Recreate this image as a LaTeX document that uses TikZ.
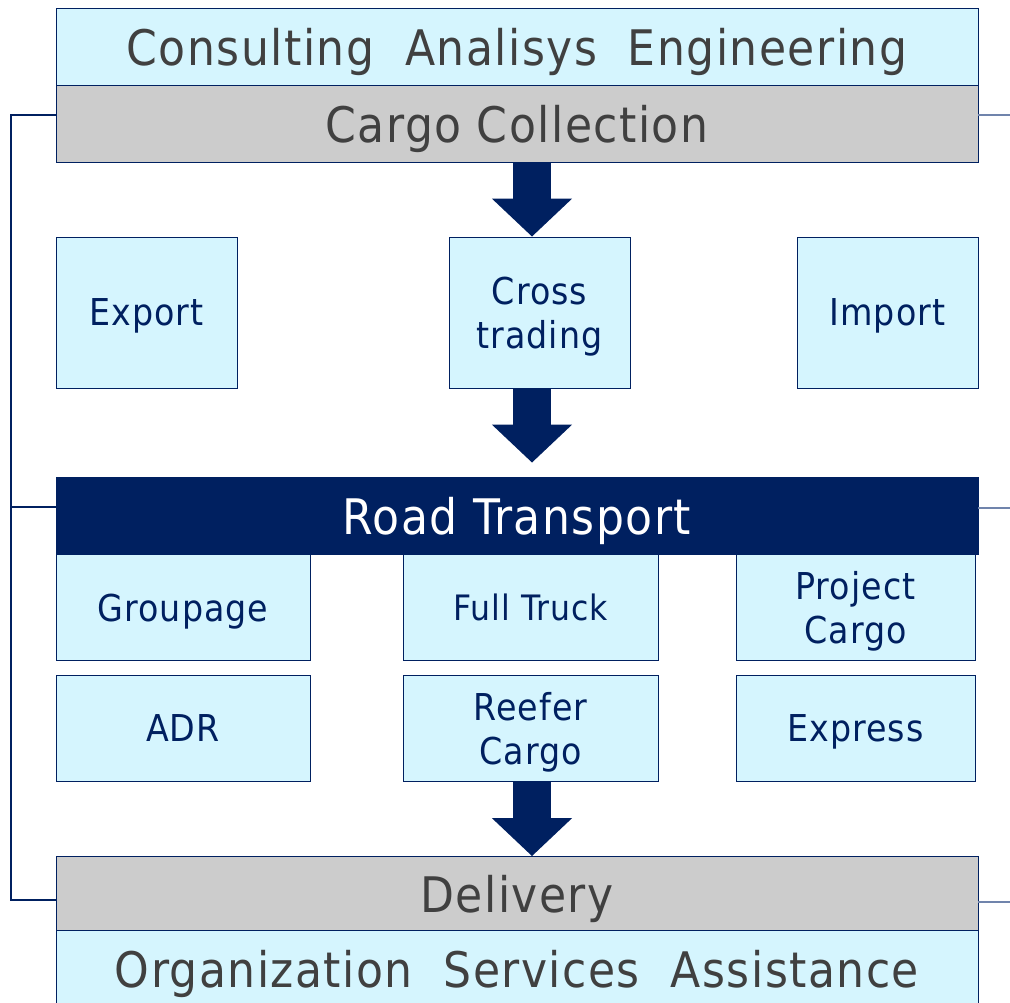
\documentclass[tikz,border=0pt]{standalone}
\usepackage{fontspec}
\setmainfont{DejaVu Sans Condensed}[LetterSpace=3]
\usetikzlibrary{arrows.meta}

\definecolor{navy}{RGB}{0,32,96}
\definecolor{skyfill}{RGB}{213,245,254}
\definecolor{bandgray}{RGB}{204,204,204}
\definecolor{textgray}{RGB}{64,64,64}
\definecolor{stubblue}{RGB}{112,132,172}

\tikzset{
  box/.style={rectangle, draw=navy, line width=0.8pt, inner sep=0pt, align=center, text depth=0pt},
  skybox/.style={box, fill=skyfill, text=navy, font=\fontsize{37}{44}\selectfont},
  band/.style={box, minimum width=922pt, minimum height=77pt, font=\fontsize{49}{56}\selectfont},
  bigarrow/.style={navy, line width=38pt, -{Triangle[width=78pt,length=38pt]}},
  bracket/.style={navy, line width=1.6pt},
  stub/.style={stubblue, line width=1.4pt}
}

\begin{document}
\begin{tikzpicture}[x=1pt,y=-1pt]
	\useasboundingbox (0,0) rectangle (1010,1003);
	% top bands
	\node[band, fill=skyfill, text=textgray] (cae) at (517,46.5) {Consulting\ \ Analisys\ \ Engineering};
	\node[band, fill=bandgray, text=textgray] (coll) at (517,123.5) {Cargo Collection};
	% trade boxes
	\node[skybox, minimum width=181pt, minimum height=151pt] (export) at (146.5,312.5) {Export};
	\node[skybox, minimum width=181pt, minimum height=151pt] (cross) at (539.5,312.5) {Cross\\trading};
	\node[skybox, minimum width=181pt, minimum height=151pt] (import) at (887.5,312.5) {Import};
	% road transport
	\node[band, fill=navy, text=white] (road) at (517,515.5) {Road Transport};
	\node[skybox, minimum width=254pt, minimum height=106pt] (groupage) at (183,607.5) {Groupage};
	\node[skybox, minimum width=255pt, minimum height=106pt, font=\fontsize{35}{42}\selectfont] (full) at (530.5,607.5) {Full Truck};
	\node[skybox, minimum width=239pt, minimum height=106pt] (project) at (855.5,607.5) {Project\\Cargo};
	\node[skybox, minimum width=254pt, minimum height=106pt] (adr) at (183,728) {ADR};
	\node[skybox, minimum width=255pt, minimum height=106pt] (reefer) at (530.5,728) {Reefer\\Cargo};
	\node[skybox, minimum width=239pt, minimum height=106pt] (express) at (855.5,728) {Express};
	% bottom bands
	\node[band, fill=bandgray, text=textgray, minimum height=74pt] (delivery) at (517,893.5) {Delivery};
	\node[band, fill=skyfill, text=textgray] (osa) at (517,968.5) {Organization\ \ Services\ \ Assistance};
	% block arrows
	\coordinate (ax) at (532,0);
	\draw[bigarrow] (coll.south -| ax) -- (cross.north -| ax);
	\draw[bigarrow, shorten >=14pt] (cross.south -| ax) -- (road.north -| ax);
	\draw[bigarrow] (reefer.south -| ax) -- (delivery.north -| ax);
	% side lines
	\coordinate (lx) at (11,0);
	\coordinate (rx) at (1010,0);
	\draw[bracket] ([yshift=8.5pt]coll.west) -- ([yshift=8.5pt]coll.west -| lx) -- ([yshift=-6.5pt]delivery.west -| lx) -- ([yshift=-6.5pt]delivery.west);
	\draw[bracket] ([yshift=8.5pt]road.west -| lx) -- ([yshift=8.5pt]road.west);
	\draw[stub] ([yshift=8.5pt]coll.east) -- ([yshift=8.5pt]coll.east -| rx);
	\draw[stub] ([yshift=7.5pt]road.east) -- ([yshift=7.5pt]road.east -| rx);
	\draw[stub] ([yshift=-8.5pt]delivery.east) -- ([yshift=-8.5pt]delivery.east -| rx);
\end{tikzpicture}
\end{document}
